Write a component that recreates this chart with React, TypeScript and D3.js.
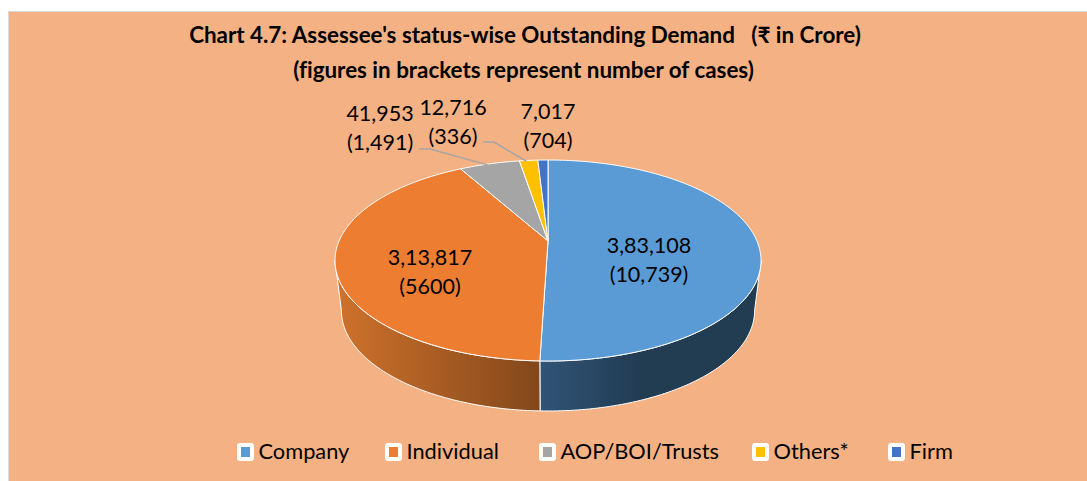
import React from 'react';
import * as d3 from 'd3';

const width = 1087;
const height = 481;

const categories = ['Company', 'Individual', 'AOP/BOI/Trusts', 'Others*', 'Firm'];
const demand = [383108, 313817, 41953, 12716, 7017];
const demandLabels = ['3,83,108', '3,13,817', '41,953', '12,716', '7,017'];
const caseLabels = ['(10,739)', '(5600)', '(1,491)', '(336)', '(704)'];
const colors = ['#5b9bd5', '#ed7d31', '#a5a5a5', '#ffc000', '#4472c4'];

const titleLines = [
  "Chart 4.7: Assessee's status-wise Outstanding Demand   (₹ in Crore)",
  '(figures in brackets represent number of cases)',
];
const titleX = [525, 523.5];
const titleY = [43, 77.5];

// label anchors, hand placed like the original
const labelPos = [
  { x: 649, y: 253 },
  { x: 430, y: 265 },
  { x: 380, y: 121 },
  { x: 453, y: 115 },
  { x: 548, y: 119 },
];
// where the leader line leaves the label
const leaderStart: ([number, number] | null)[] = [null, null, [419, 149], [483, 142], null];
const legendX = [237, 385, 539, 752, 888];

// the pie is tilted with perspective, so the centre sits above the ellipse middle
const cx = 548;
const apexY = 241;
const frontY = 361;
const backY = 160;
const rx = 213;
const depth = 50;
const bottomScale = 0.97; // lower rim is a bit narrower than the top one

const k = (frontY - apexY - (apexY - backY)) / (frontY - backY);
const B = (frontY - apexY) * (1 - k);
const A = rx * Math.sqrt(1 - k * k);

function project(a: number): [number, number] {
  const sx = Math.sin(a);
  const sy = -Math.cos(a);
  const w = 1 - k * sy;
  return [cx + (A * sx) / w, apexY + (B * sy) / w];
}

function sample(a0: number, a1: number): [number, number][] {
  const n = Math.max(2, Math.ceil(Math.abs(a1 - a0) * 60));
  return d3.range(n + 1).map((i) => project(a0 + ((a1 - a0) * i) / n));
}

const line = d3.line();

const App = () => {
  const arcs = d3.pie<number>().sort(null)(demand);
  const rightEdge = Math.acos(-k);
  const leftEdge = 2 * Math.PI - rightEdge;
  const walls = [
    { a0: rightEdge, a1: arcs[0].endAngle, fill: 'url(#wallBlue)' },
    { a0: arcs[1].startAngle, a1: leftEdge, fill: 'url(#wallOrange)' },
  ];

  return (
    <svg width={width} height={height} style={{ position: 'absolute', left: 0, top: 0 }}>
      <defs>
        <linearGradient id="wallBlue" gradientUnits="userSpaceOnUse" x1={541} x2={761} y1={0} y2={0}>
          <stop offset="0" stopColor="#305476" />
          <stop offset="0.45" stopColor="#223c52" />
          <stop offset="1" stopColor="#223c52" />
        </linearGradient>
        <linearGradient id="wallOrange" gradientUnits="userSpaceOnUse" x1={336} x2={541} y1={0} y2={0}>
          <stop offset="0" stopColor="#cf722c" />
          <stop offset="1" stopColor="#82471b" />
        </linearGradient>
      </defs>
      <rect x={0} y={0} width={width} height={height} fill="#fff" />
      <rect x={8.5} y={11.5} width={width} height={height} fill="#f4b183" stroke="#d9d9d9" strokeWidth={1} />

      {titleLines.map((t, i) => (
        <text
          key={t}
          x={titleX[i]}
          y={titleY[i]}
          textAnchor="middle"
          fontFamily="Lato"
          fontWeight={700}
          fontSize={22.4}
          fill="#000"
          style={{ whiteSpace: 'pre', fontVariantLigatures: 'none' }}
        >
          {t}
        </text>
      ))}

      {walls.map((w) => {
        const top = sample(w.a0, w.a1);
        const bottom = top
          .map(([x, y]) => [cx + (x - cx) * bottomScale, y + depth] as [number, number])
          .reverse();
        return <path key={w.fill} d={line([...top, ...bottom]) + 'Z'} fill={w.fill} stroke="#fff" strokeWidth={1} strokeLinejoin="round" />;
      })}

      {arcs.map((d, i) => {
        const pts: [number, number][] = [[cx, apexY], ...sample(d.startAngle, d.endAngle)];
        return <path key={categories[i]} d={line(pts) + 'Z'} fill={colors[i]} stroke="#fff" strokeWidth={1} strokeLinejoin="round" />;
      })}

      {arcs.map((d, i) => {
        const start = leaderStart[i];
        if (!start) return null;
        const end = project((d.startAngle + d.endAngle) / 2);
        return (
          <path
            key={categories[i]}
            d={line([start, [start[0] + 11, start[1]], [end[0] - 2, end[1] + 1]]) as string}
            fill="none"
            stroke="#a6a6a6"
            strokeWidth={1.5}
          />
        );
      })}

      {categories.map((c, i) => (
        <text key={c} x={labelPos[i].x} textAnchor="middle" fontFamily="Lato" fontSize={21.5} fill="#000">
          <tspan x={labelPos[i].x} y={labelPos[i].y}>{demandLabels[i]}</tspan>
          <tspan x={labelPos[i].x} y={labelPos[i].y + 29}>{caseLabels[i]}</tspan>
        </text>
      ))}

      {categories.map((c, i) => (
        <g key={c}>
          <rect x={legendX[i]} y={443} width={17} height={18} rx={3} fill="#fff" />
          <rect x={legendX[i] + 4} y={447} width={9} height={10} fill={colors[i]} />
          <text x={legendX[i] + 21.5} y={459} fontFamily="Lato" fontSize={21.8} fill="#000">
            {c}
          </text>
        </g>
      ))}
    </svg>
  );
};

export default App;
